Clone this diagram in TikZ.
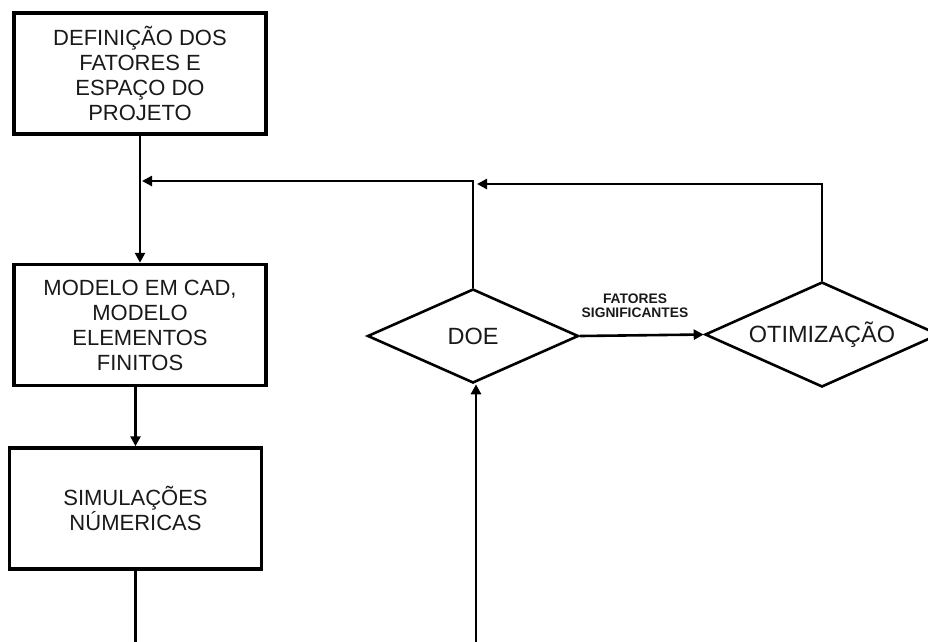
\documentclass[tikz,border=0pt]{standalone}
\usepackage{fontspec}
\setmainfont{Liberation Sans}
\usetikzlibrary{shapes.geometric,arrows.meta}
\begin{document}
\begin{tikzpicture}[x=1pt,y=-1pt,
  procbox/.style={draw=black,line width=3.5pt,rectangle,minimum width=252pt,minimum height=121pt,
    inner sep=0pt,align=center,text=black!90,font=\fontsize{22}{25}\selectfont},
  decbox/.style={draw=black,line width=2.6pt,diamond,inner sep=0pt,text=black!90,
    font=\fontsize{23.5}{26}\selectfont},
  conn/.style={draw=black,line width=2.6pt},
  arr/.style={conn,-{Triangle[length=10pt,width=10pt]}},
  lbl/.style={align=center,text=black!90,font=\fontsize{13.8}{14}\selectfont\bfseries}]
\useasboundingbox (0,0) rectangle (928,641);
\clip (0,0) rectangle (928,641);
\node[procbox] (box1) at (140,73.5) {DEFINIÇÃO DOS\\FATORES E\\ESPAÇO DO\\PROJETO};
\node[procbox] (box2) at (140,325) {MODELO EM CAD,\\MODELO\\ELEMENTOS\\FINITOS};
\node[procbox] (box3) at (135.5,508.5) {SIMULAÇÕES\\NÚMERICAS};
\node[decbox,aspect=2.245,minimum width=211pt,minimum height=94pt] (doe) at (473,336) {DOE};
\node[decbox,aspect=2.23,minimum width=234pt,minimum height=105pt] (otim) at (822,334.5) {OTIMIZAÇÃO};
\coordinate (m1) at (142,181);
\coordinate (m2) at (477,184);
\coordinate (b1) at (135.5,645);
\coordinate (b2) at (476,645);
\draw[arr] (box1.south) -- (box2.north);
\draw[arr] (box3.north |- box2.south) -- (box3.north);
\draw[conn] (box3.south) -- (b1);
\draw[arr] (b2) -- (b2 |- doe.south);
\draw[arr] (doe.north) |- (m1);
\draw[arr] (otim.north) |- (m2);
\draw[arr] (doe.east) -- (otim.west);
\node[lbl] (sig) at (635,305.5) {FATORES\\SIGNIFICANTES};
\end{tikzpicture}
\end{document}
